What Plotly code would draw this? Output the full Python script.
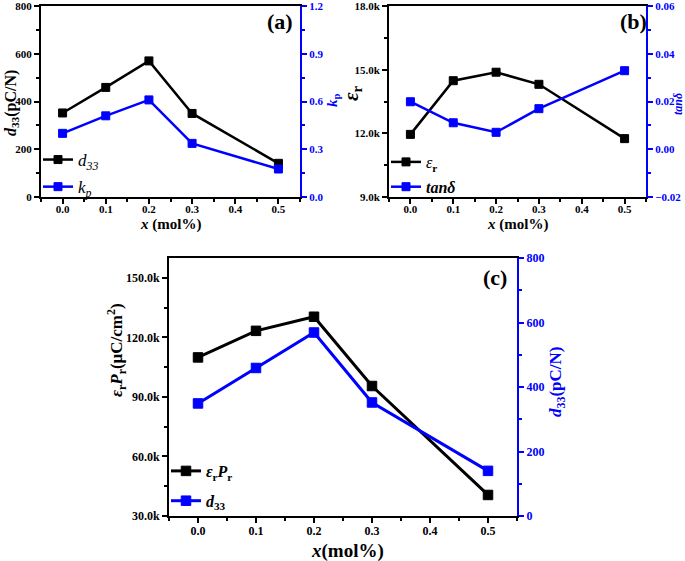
import plotly.graph_objects as go

# composition x (mol%)
x_mol = [0.0, 0.1, 0.2, 0.3, 0.5]

# panel (a)
d33_a = [352, 459, 570, 350, 141]
kp_a = [0.40, 0.51, 0.61, 0.337, 0.176]

# panel (b)
eps_r = [11950, 14480, 14880, 14310, 11750]
tan_d = [0.0199, 0.0111, 0.0071, 0.0170, 0.0329]

# panel (c)
eps_pr = [109900, 123300, 130400, 95500, 40600]
d33_c = [349, 459, 569, 352, 140]

# tick labels for k-valued axes
eps_ticks = [9000, 12000, 15000, 18000]
eps_ticktext = ["9.0k", "12.0k", "15.0k", "18.0k"]
epspr_ticks = [30000, 60000, 90000, 120000, 150000]
epspr_ticktext = ["30.0k", "60.0k", "90.0k", "120.0k", "150.0k"]

W, H = 685, 561
FONT = "Liberation Serif, Times New Roman, serif"
BLUE = "#0000FF"


def px(x):
    return x / W


def py(y):
    return 1 - y / H


def tfont(size, color="black"):
    return dict(family=FONT, size=size, color=color, weight="bold")


def x_axis(domain, anchor, tsize, standoff=0):
    return dict(domain=domain, anchor=anchor, range=[-0.05, 0.55],
                tick0=0, dtick=0.1, tickformat=".1f",
                ticks="outside", ticklen=5, tickwidth=1.5, tickcolor="black",
                minor=dict(ticks="outside", dtick=0.05, ticklen=3, tickcolor="black"),
                showline=True, linewidth=2, linecolor="black", mirror=True,
                showgrid=False, zeroline=False, automargin=False,
                ticklabelstandoff=standoff, ticklabeloverflow="allow",
                tickfont=tfont(tsize))


def y_axis(domain, anchor, rng, dtick, minor, tsize, color="black", side="left",
           overlaying=None, tickvals=None, ticktext=None, fmt=None):
    ax = dict(domain=domain, anchor=anchor, range=rng, side=side,
              ticks="outside", ticklen=5, tickwidth=1.5, tickcolor=color,
              minor=dict(ticks="outside", dtick=minor, tick0=rng[0], ticklen=3, tickcolor=color),
              showline=True, linewidth=2, linecolor=color,
              showgrid=False, zeroline=False, automargin=False,
              ticklabeloverflow="allow",
              tickfont=tfont(tsize, color))
    if tickvals is not None:
        ax.update(tickmode="array", tickvals=tickvals, ticktext=ticktext)
    else:
        ax.update(tick0=rng[0], dtick=dtick)
    if fmt:
        ax["tickformat"] = fmt
    if overlaying:
        ax["overlaying"] = overlaying
    return ax


def line(x, y, name, color, xa, ya, legend, group, msize, width):
    return go.Scatter(x=x, y=y, name=name, mode="lines+markers",
                      line=dict(color=color, width=width),
                      marker=dict(symbol="square", size=msize, color=color,
                                  line=dict(color=color, width=1)),
                      xaxis=xa, yaxis=ya, legend=legend, legendgroup=group)


def label(text, x, y, size, color="black", angle=0):
    return dict(text=text, x=px(x), y=py(y), xref="paper", yref="paper",
                showarrow=False, textangle=angle, xanchor="center", yanchor="middle",
                font=dict(family=FONT, size=size, color=color))


fig = go.Figure()

# (a)
fig.add_trace(line(x_mol, d33_a, "<i>d</i><sub><i>33</i></sub>", "black", "x", "y", "legend", "a1", 8, 2.5))
fig.add_trace(line(x_mol, kp_a, "<i>k</i><sub><i>p</i></sub>", BLUE, "x", "y2", "legend", "a2", 8, 2.5))
# (b)
fig.add_trace(line(x_mol, eps_r, "<i>ε</i><sub><b>r</b></sub>", "black", "x2", "y3", "legend2", "b1", 8, 2.5))
fig.add_trace(line(x_mol, tan_d, "<b><i>tanδ</i></b>", BLUE, "x2", "y4", "legend2", "b2", 8, 2.5))
# (c)
fig.add_trace(line(x_mol, eps_pr, "<b><i>ε</i><sub>r</sub><i>P</i><sub>r</sub></b>", "black", "x3", "y5", "legend3", "c1", 9.5, 3))
fig.add_trace(line(x_mol, d33_c, "<b><i>d</i><sub>33</sub></b>", BLUE, "x3", "y6", "legend3", "c2", 9.5, 3))

dom_ax = [px(41), px(300)]
dom_bx = [px(389), px(646)]
dom_top = [py(197), py(6)]
dom_cx = [px(169), px(517)]
dom_cy = [py(516), py(258)]

legend_common = dict(bgcolor="rgba(0,0,0,0)", xanchor="left", yanchor="top", itemwidth=30)

fig.update_layout(
    width=W, height=H,
    margin=dict(l=0, r=0, t=0, b=0),
    paper_bgcolor="white", plot_bgcolor="white",
    font=dict(family=FONT, color="black"),
    xaxis=x_axis(dom_ax, "y", 11, -4),
    yaxis=y_axis(dom_top, "x", [0, 800], 200, 100, 11),
    yaxis2=y_axis(dom_top, "x", [0, 1.2], 0.3, 0.15, 11, color=BLUE, side="right",
                  overlaying="y", fmt=".1f"),
    xaxis2=x_axis(dom_bx, "y3", 11, -4),
    yaxis3=y_axis(dom_top, "x2", [9000, 18000], 3000, 1500, 11,
                  tickvals=eps_ticks, ticktext=eps_ticktext),
    yaxis4=y_axis(dom_top, "x2", [-0.02, 0.06], 0.02, 0.01, 11, color=BLUE, side="right",
                  overlaying="y3", fmt=".2f"),
    xaxis3=x_axis(dom_cx, "y5", 12, -2),
    yaxis5=y_axis(dom_cy, "x3", [30000, 160000], 30000, 15000, 12,
                  tickvals=epspr_ticks, ticktext=epspr_ticktext),
    yaxis6=y_axis(dom_cy, "x3", [0, 800], 200, 100, 12, color=BLUE, side="right",
                  overlaying="y5"),
    legend=dict(legend_common, x=px(38), y=py(142), tracegroupgap=2,
                font=dict(family=FONT, size=17)),
    legend2=dict(legend_common, x=px(386), y=py(145), tracegroupgap=1,
                 font=dict(family=FONT, size=16)),
    legend3=dict(legend_common, x=px(166), y=py(454), tracegroupgap=6,
                 font=dict(family=FONT, size=16)),
    annotations=[
        label("<b>(a)</b>", 280, 22, 22),
        label("<b>(b)</b>", 633, 22, 22),
        label("<b>(c)</b>", 495, 277, 22),
        # axis titles
        label("<b><i>x</i> (mol%)</b>", 170, 224, 15),
        label("<b><i>x</i> (mol%)</b>", 517, 224, 15),
        label("<b><i>x</i>(mol%)</b>", 347, 551, 19),
        label("<b><i>d</i><sub>33</sub>(pC/N)</b>", 11, 103, 16, angle=-90),
        label("<b><i>k</i><sub>p</sub></b>", 333, 100, 15, BLUE, angle=-90),
        label("<b><i>ε</i><sub>r</sub></b>", 352, 93, 21, angle=-90),
        label("<b><i>tanδ</i></b>", 678, 104, 12, BLUE, angle=-90),
        label("<b><i>ε</i><sub>r</sub><i>P</i><sub>r</sub>(μC/cm<sup>2</sup>)</b>", 116, 350, 17, angle=-90),
        label("<b><i>d</i><sub>33</sub>(pC/N)</b>", 557, 382, 17, BLUE, angle=-90),
    ],
)

fig.write_html("out.html", config={"displayModeBar": False},
               post_script="document.body.style.margin='0';")
